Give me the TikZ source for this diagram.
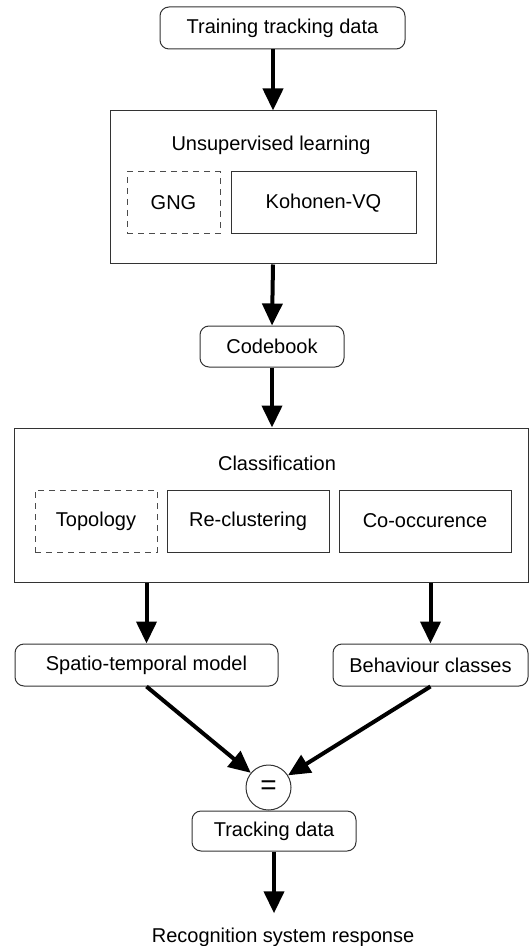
\documentclass[tikz,border=0pt]{standalone}
\usepackage{fontspec}
\setmainfont{Liberation Sans}
\usetikzlibrary{arrows.meta}

\begin{document}
\begin{tikzpicture}[
  x=0.5pt, y=-0.5pt,
  font=\fontsize{10}{12}\selectfont,
  >={Triangle[length=11pt, width=10pt]},
  blk/.style={draw=black!80, line width=0.5pt, inner sep=0pt, align=center},
  rnd/.style={blk, rounded corners=4.5pt, minimum height=21pt},
  dsh/.style={blk, draw=black!70, dash pattern=on 3pt off 2.5pt},
  ar/.style={->, line width=2pt},
]
  \useasboundingbox (0,0) rectangle (530,946);

  % input
  \node[rnd, minimum width=122.5pt] (train) at (282.5,28) {Training tracking data};

  % unsupervised learning
  \node[blk, minimum width=163pt, minimum height=76.5pt] (unsup) at (273,187.5) {};
  \node (unsupt) at (271,145) {Unsupervised learning};
  \node[dsh, minimum width=46.5pt, minimum height=31pt] (gng) at (173.5,203) {GNG};
  \node[blk, minimum width=92.5pt, minimum height=31pt] (koh) at (323.5,203) {Kohonen-VQ};

  \node[rnd, minimum width=72pt, minimum height=20.5pt] (code) at (272,346.5) {Codebook};

  % classification
  \node[blk, minimum width=257pt, minimum height=77pt] (class) at (271,505) {};
  \node (classt) at (277,463) {Classification};
  \node[dsh, minimum width=61pt, minimum height=31pt] (topo) at (96,521) {Topology};
  \node[blk, minimum width=81pt, minimum height=31pt] (reclu) at (248,521) {Re-clustering};
  \node[blk, minimum width=86pt, minimum height=31pt] (cooc) at (425,521) {Co-occurence};

  % models
  \node[rnd, minimum width=131.5pt] (spatio) at (146.5,665) {Spatio-temporal model};
  \node[rnd, minimum width=97.5pt] (behav) at (430.5,665) {Behaviour classes};

  % recognition
  \node[blk, circle, minimum size=22.5pt, font=\fontsize{14}{14}\selectfont] (eq) at (268.5,787.5) {=};
  \node[rnd, minimum width=82pt, minimum height=20pt] (track) at (274,831) {Tracking data};
  \node[inner sep=7pt] (resp) at (283,937) {Recognition system response};

  \draw[ar] (train.south -| unsup.north) -- (unsup.north);
  \draw[ar] (unsup.south) -- (code.north);
  \draw[ar] (code.south) -- (code.south |- class.north);
  \draw[ar] (class.south -| spatio.north) -- (spatio.north);
  \draw[ar] (class.south -| behav.north) -- (behav.north);
  \draw[ar] (spatio.south) -- (eq);
  \draw[ar] (behav.south) -- (eq);
  \draw[ar] (track.south) -- (track.south |- resp.north);
\end{tikzpicture}
\end{document}
